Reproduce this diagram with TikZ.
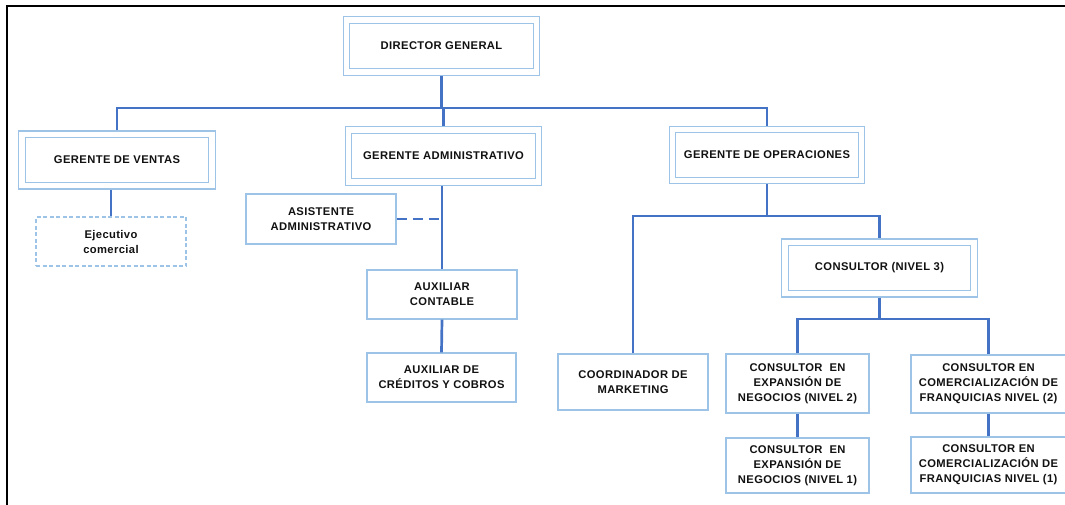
\documentclass[tikz,border=0pt]{standalone}
\usepackage{fontspec}
\newfontfamily\boxfont[LetterSpace=3.5]{Liberation Sans}
\usetikzlibrary{calc}
\definecolor{boxblue}{HTML}{9DC3E6}
\definecolor{linkblue}{HTML}{4472C4}
\definecolor{txt}{HTML}{111111}
\tikzset{
  every node/.style={font=\boxfont\bfseries\fontsize{11.2}{15}\selectfont, text=txt, align=center, inner sep=0pt},
  plainbox/.style={draw=boxblue, line width=1.3pt, fill=white},
  dblbox/.style={plainbox, outer sep=7.15pt},
  outerline/.style={draw=boxblue, line width=1.3pt},
  dashbox/.style={draw=boxblue, line width=1.1pt, dash pattern=on 4pt off 2.5pt},
  conn/.style={draw=linkblue, line width=2.7pt},
  dashconn/.style={draw=linkblue, line width=2.7pt, dash pattern=on 10pt off 6pt}
}
\begin{document}
\begin{tikzpicture}[x=1pt,y=-1pt]
\useasboundingbox (0,0) rectangle (1065,504);
% frame
\draw[black, line width=2.6pt] (7,520) -- (7,6) -- (1080,6);
% double boxes (inner line is the node border)
\node[dblbox, minimum width=183.5pt, minimum height=45.5pt] (dir) at (441.5,46) {DIRECTOR GENERAL};
\node[dblbox, minimum width=183.5pt, minimum height=45pt] (ven) at (117,160) {GERENTE DE VENTAS};
\node[dblbox, minimum width=183.5pt, minimum height=45.5pt] (adm) at (443.5,156) {GERENTE ADMINISTRATIVO};
\node[dblbox, minimum width=182.5pt, minimum height=44.5pt] (ops) at (767,155) {GERENTE DE OPERACIONES};
\node[dblbox, minimum width=182.5pt, minimum height=45pt] (cn3) at (879.5,268) {CONSULTOR (NIVEL 3)};
\foreach \n in {dir,ven,adm,ops,cn3}
  \draw[outerline] ([shift={(0.65pt,0.65pt)}]\n.south west) rectangle ([shift={(-0.65pt,-0.65pt)}]\n.north east);
% single boxes
\node[dashbox, minimum width=150pt, minimum height=49pt] (eje) at (111,241.5) {Ejecutivo\\comercial};
\node[plainbox, minimum width=150pt, minimum height=50pt] (asi) at (321,219) {ASISTENTE\\ADMINISTRATIVO};
\node[plainbox, minimum width=150pt, minimum height=49pt] (auc) at (442,294.5) {AUXILIAR\\CONTABLE};
\node[plainbox, minimum width=149pt, minimum height=49pt] (acr) at (441.5,377.5) {AUXILIAR DE\\CRÉDITOS Y COBROS};
\node[plainbox, minimum width=150pt, minimum height=56pt] (coo) at (633,382) {COORDINADOR DE\\MARKETING};
\node[plainbox, minimum width=143pt, minimum height=59pt] (ex2) at (797.5,383.5) {CONSULTOR\ \ EN\\EXPANSIÓN DE\\NEGOCIOS (NIVEL 2)};
\node[plainbox, minimum width=143pt, minimum height=55pt] (ex1) at (797.5,465.5) {CONSULTOR\ \ EN\\EXPANSIÓN DE\\NEGOCIOS (NIVEL 1)};
\node[plainbox, minimum width=155pt, minimum height=58pt] (fr2) at (988.5,384) {CONSULTOR EN\\COMERCIALIZACIÓN DE\\FRANQUICIAS NIVEL (2)};
\node[plainbox, minimum width=155pt, minimum height=56pt] (fr1) at (988.5,465) {CONSULTOR EN\\COMERCIALIZACIÓN DE\\FRANQUICIAS NIVEL (1)};
% bus coordinates
\coordinate (bus1) at (0,108);
\coordinate (bus2) at (0,216);
\coordinate (bus3) at (0,319);
% connectors
\draw[conn] (dir.south) -- (dir.south |- bus1);
\draw[conn] (ven.north) |- (ops.north |- bus1) -- (ops.north);
\draw[conn] (adm.north |- bus1) -- (adm.north);
\draw[conn] (eje.north |- ven.south) -- (eje.north);
\draw[conn] (auc.north |- adm.south) -- (auc.north);
\draw[dashconn] (asi.east) -- (asi.east -| auc.north);
\draw[conn] (auc.south) -- (acr.north);
\draw[conn] (ops.south) -- (ops.south |- bus2);
\draw[conn] (coo.north) |- (cn3.north |- bus2) -- (cn3.north);
\draw[conn] (cn3.south) -- (cn3.south |- bus3);
\draw[conn] (ex2.north) |- (fr2.north |- bus3) -- (fr2.north);
\draw[conn] (ex2.south) -- (ex1.north);
\draw[conn] (fr2.south) -- (fr1.north);
\end{tikzpicture}
\end{document}
